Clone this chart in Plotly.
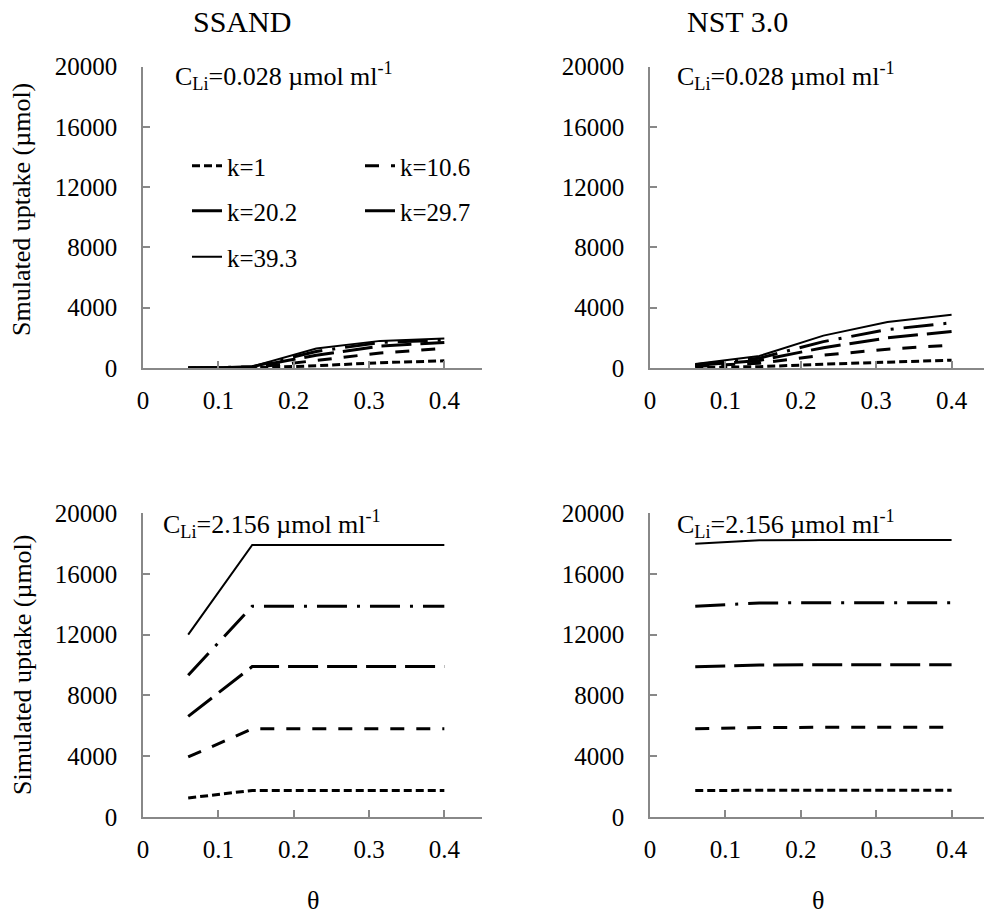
import plotly.graph_objects as go

# ---------------- data ----------------
theta = [0.06, 0.145, 0.23, 0.315, 0.40]
k_labels = ["k=1", "k=10.6", "k=20.2", "k=29.7", "k=39.3"]

ssand_low = {
    "k=1":    [0, 10, 150, 350, 480],
    "k=10.6": [0, 30, 500, 1000, 1300],
    "k=20.2": [0, 60, 850, 1450, 1700],
    "k=29.7": [0, 80, 1100, 1700, 1850],
    "k=39.3": [0, 100, 1300, 1800, 1950],
}
nst_low = {
    "k=1":    [30, 90, 250, 400, 520],
    "k=10.6": [110, 320, 850, 1250, 1520],
    "k=20.2": [170, 500, 1350, 2000, 2420],
    "k=29.7": [220, 650, 1750, 2550, 3000],
    "k=39.3": [270, 800, 2150, 3050, 3530],
}
ssand_high = {
    "k=1":    [1250, 1750, 1750, 1750, 1750],
    "k=10.6": [3950, 5800, 5800, 5800, 5800],
    "k=20.2": [6620, 9900, 9900, 9900, 9900],
    "k=29.7": [9320, 13870, 13870, 13870, 13870],
    "k=39.3": [12000, 17900, 17900, 17900, 17900],
}
nst_high = {
    "k=1":    [1750, 1760, 1760, 1760, 1760],
    "k=10.6": [5800, 5880, 5900, 5900, 5900],
    "k=20.2": [9880, 10000, 10020, 10020, 10020],
    "k=29.7": [13870, 14080, 14100, 14100, 14100],
    "k=39.3": [17980, 18200, 18220, 18220, 18220],
}

y_ticks = [0, 4000, 8000, 12000, 16000, 20000]
y_tick_text = ["0", "4000", "8000", "12000", "16000", "20000"]
x_ticks = [0, 0.1, 0.2, 0.3, 0.4]
x_tick_text = ["0", "0.1", "0.2", "0.3", "0.4"]

# ---------------- styles ----------------
styles = {
    "k=1":    dict(width=3, dash="8px,4px"),
    "k=10.6": dict(width=3, dash="14px,12px"),
    "k=20.2": dict(width=3, dash="30px,9px"),
    "k=29.7": dict(width=3, dash="30px,10px,3px,10px"),
    "k=39.3": dict(width=2, dash="solid"),
}
legend_of = {"k=1": "legend", "k=10.6": "legend", "k=20.2": "legend2",
             "k=29.7": "legend2", "k=39.3": "legend3"}

FONT = "Liberation Serif"
W, H = 984, 922
AX = "#888888"

fig = go.Figure()
panels = [(ssand_low, "x", "y"), (nst_low, "x2", "y2"),
          (ssand_high, "x3", "y3"), (nst_high, "x4", "y4")]
for pi, (data, xa, ya) in enumerate(panels):
    for k in k_labels:
        fig.add_trace(go.Scatter(
            x=theta, y=data[k], mode="lines", name=k,
            line=dict(color="black", **styles[k]),
            xaxis=xa, yaxis=ya,
            showlegend=(pi == 0), legend=legend_of[k],
        ))

def px_x(p):
    return p / W

def px_y(p):
    return 1 - p / H

xl = [px_x(143), px_x(482)]
xr = [px_x(650), 1.0]
yt = [px_y(368), px_y(66.7)]
yb = [px_y(817), px_y(513)]

def xaxis(domain, anchor, rng):
    return dict(domain=domain, anchor=anchor, range=rng, tickvals=x_ticks,
                ticktext=x_tick_text, showgrid=False, zeroline=False,
                showline=True, linecolor=AX, linewidth=1.5, ticks="inside",
                ticklen=7, tickcolor=AX, tickwidth=1.5, automargin=False,
                tickfont=dict(family=FONT, size=25, color="black"),
                ticklabelstandoff=9, fixedrange=True)

def yaxis(domain, anchor):
    return dict(domain=domain, anchor=anchor, range=[0, 20000], tickvals=y_ticks,
                ticktext=y_tick_text, showgrid=False, zeroline=False,
                showline=True, linecolor=AX, automargin=False,
                linewidth=1.5, ticks="inside", ticklen=7, tickcolor=AX,
                tickwidth=1.5, tickfont=dict(family=FONT, size=25, color="black"),
                ticklabelstandoff=19, fixedrange=True)

fig.update_layout(
    width=W, height=H, margin=dict(l=0, r=0, t=0, b=0, autoexpand=False),
    paper_bgcolor="white", plot_bgcolor="white",
    font=dict(family=FONT, size=25, color="black"),
    xaxis=xaxis(xl, "y", [0, 0.45]), yaxis=yaxis(yt, "x"),
    xaxis2=xaxis(xr, "y2", [0, 0.443]), yaxis2=yaxis(yt, "x2"),
    xaxis3=xaxis(xl, "y3", [0, 0.45]), yaxis3=yaxis(yb, "x3"),
    xaxis4=xaxis(xr, "y4", [0, 0.443]), yaxis4=yaxis(yb, "x4"),
)

leg_common = dict(orientation="h", xanchor="left", yanchor="middle",
                  bgcolor="rgba(0,0,0,0)", font=dict(family=FONT, size=25),
                  entrywidth=128, entrywidthmode="pixels", itemwidth=30,
                  tracegroupgap=0)
fig.update_layout(
    legend=dict(x=px_x(187), y=px_y(166), **leg_common),
    legend2=dict(x=px_x(187), y=px_y(211), **leg_common),
    legend3=dict(x=px_x(187), y=px_y(257), **leg_common),
)

ann = [
    dict(text="SSAND", x=px_x(242), y=px_y(21), font=dict(size=30)),
    dict(text="NST 3.0", x=px_x(737), y=px_y(21), font=dict(size=30)),
    dict(text="C<sub>Li</sub>=0.028 µmol ml<sup>-1</sup>", x=px_x(173), y=px_y(76),
         xanchor="left", font=dict(size=26)),
    dict(text="C<sub>Li</sub>=0.028 µmol ml<sup>-1</sup>", x=px_x(675), y=px_y(76),
         xanchor="left", font=dict(size=26)),
    dict(text="C<sub>Li</sub>=2.156 µmol ml<sup>-1</sup>", x=px_x(161), y=px_y(524),
         xanchor="left", font=dict(size=26)),
    dict(text="C<sub>Li</sub>=2.156 µmol ml<sup>-1</sup>", x=px_x(675), y=px_y(524),
         xanchor="left", font=dict(size=26)),
    dict(text="Smulated uptake (µmol)", x=px_x(22), y=px_y(210), textangle=-90,
         font=dict(size=26)),
    dict(text="Simulated uptake (µmol)", x=px_x(22), y=px_y(665), textangle=-90,
         font=dict(size=26)),
    dict(text="θ", x=px_x(313), y=px_y(900), font=dict(size=26)),
    dict(text="θ", x=px_x(818), y=px_y(900), font=dict(size=26)),
]
for a in ann:
    a.setdefault("xanchor", "center")
    a.update(xref="paper", yref="paper", yanchor="middle", showarrow=False)
    a["font"] = dict(family=FONT, color="black", **a["font"])
fig.update_layout(annotations=ann)

# remove the default 8px page margin so the figure fills the window exactly
fig.write_html("out.html",
               config={"displayModeBar": False},
               post_script="document.body.style.margin='0';"
                           "document.body.style.overflow='hidden';")
